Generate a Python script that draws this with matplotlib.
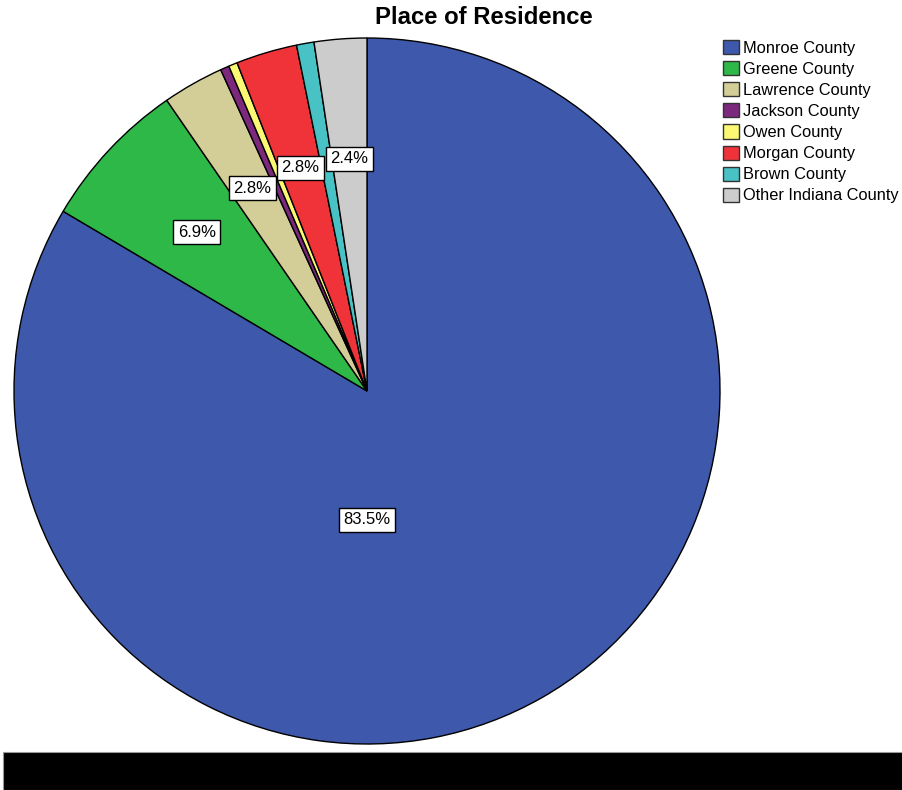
import numpy as np
import matplotlib.pyplot as plt
from matplotlib.patches import Rectangle, Patch

plt.rcParams['font.family'] = ['Liberation Sans', 'DejaVu Sans']

counties = ['Monroe County', 'Greene County', 'Lawrence County', 'Jackson County',
            'Owen County', 'Morgan County', 'Brown County', 'Other Indiana County']
percents = [83.5, 6.9, 2.8, 0.4, 0.4, 2.8, 0.8, 2.4]
colors = ['#3e58ac', '#2eb848', '#d3ce97', '#7c287d', '#fbf873', '#ef3338', '#48c2c5', '#cccccc']
shown = ['83.5%', '6.9%', '2.8%', '', '', '2.8%', '', '2.4%']

W, H = 903, 790
fig = plt.figure(figsize=(W / 100, H / 100), dpi=100)

# pie axes sized so that the unit circle is round in pixels
cx, cy, r = 367, 391, 353
ax = fig.add_axes([(cx - r) / W, (H - cy - r) / H, 2 * r / W, 2 * r / H])
wedges, _ = ax.pie(percents, colors=colors, startangle=90, counterclock=False,
                   wedgeprops=dict(edgecolor='black', linewidth=1.0))
ax.set_xlim(-1, 1)
ax.set_ylim(-1, 1)
ax.set_aspect('auto')
ax.axis('off')

box = dict(boxstyle='square,pad=0.28', fc='white', ec='black', lw=1)
for w, lab in zip(wedges, shown):
    if not lab:
        continue
    mid = np.deg2rad((w.theta1 + w.theta2) / 2)
    if lab == '83.5%':
        x, y = 0.0, -0.365
    else:
        x, y = 0.66 * np.cos(mid), 0.66 * np.sin(mid)
    ax.text(x, y, lab, ha='center', va='center', fontsize=12, bbox=box)

handles = [Patch(facecolor=c, edgecolor='#333333', linewidth=1) for c in colors]
fig.legend(handles, counties, loc='upper left', bbox_to_anchor=(723 / W, 1 - 40 / H),
           frameon=False, fontsize=11.8, handlelength=0.95, handleheight=0.95,
           handletextpad=0.3, labelspacing=0.33, borderaxespad=0, borderpad=0)

fig.text(484 / W, 1 - 18 / H, 'Place of Residence', ha='center', va='center',
         fontsize=17.2, fontweight='bold')

fig.patches.append(Rectangle((3 / W, 0), 1 - 3 / W, 38 / H, transform=fig.transFigure,
                             facecolor='black', edgecolor='#999999', linewidth=0.8))

fig.savefig('out.png', dpi=100)
